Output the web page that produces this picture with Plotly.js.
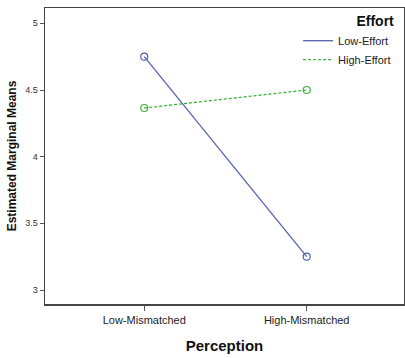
<!DOCTYPE html>
<html><head><meta charset="utf-8">
<script src="https://cdn.plot.ly/plotly-3.0.1.min.js"></script>
<style>html,body{margin:0;padding:0;background:#fff}#chart{width:405px;height:358px}</style>
</head><body><div id="chart"></div>
<script>
const categories = ["Low-Mismatched", "High-Mismatched"];
const seriesNames = ["Low-Effort", "High-Effort"];
const lowEffort = [4.75, 3.25];
const highEffort = [4.365, 4.5];
const yTicks = [3, 3.5, 4, 4.5, 5];
const yTickLabels = ["3", "3.5", "4", "4.5", "5"];

const colors = ["#5563b0", "#3cb43c"];
const dashes = ["solid", "3px,2px"];
const values = [lowEffort, highEffort];

const traces = [];
values.forEach((vals, i) => {
  traces.push({x: categories, y: vals, name: seriesNames[i], type: "scatter", mode: "lines+markers",
    showlegend: false,
    line: {color: colors[i], width: 1.3, dash: dashes[i]},
    marker: {symbol: "circle-open", size: 7, color: colors[i], line: {width: 1.2}}});
});
values.forEach((vals, i) => {
  traces.push({x: [null], y: [null], name: seriesNames[i], type: "scatter", mode: "lines",
    line: {color: colors[i], width: 1.3, dash: dashes[i]}});
});

const layout = {
  width: 405, height: 358,
  margin: {l: 45, r: 1, t: 8, b: 54},
  paper_bgcolor: "#fff", plot_bgcolor: "#fff",
  font: {family: "Liberation Sans, Arial, sans-serif", color: "#222"},
  showlegend: true,
  legend: {
    x: 0.705, y: 1.0, xanchor: "left", yanchor: "top",
    bgcolor: "rgba(0,0,0,0)",
    font: {size: 11, color: "#222"},
    title: {text: "<b>Effort</b>", font: {size: 14, color: "#111"}, side: "top right"},
    itemwidth: 30, tracegroupgap: 0
  },
  xaxis: {
    type: "category", range: [-0.611, 1.599],
    showline: true, mirror: true, linecolor: "#444", linewidth: 1.5,
    ticks: "outside", ticklen: 5, tickcolor: "#555", showgrid: false, zeroline: false,
    tickfont: {size: 11, color: "#222"},
    title: {text: "<b>Perception</b>", font: {size: 15, color: "#111"}, standoff: 16}
  },
  yaxis: {
    range: [2.895, 5.115],
    tickvals: yTicks, ticktext: yTickLabels,
    showline: true, mirror: true, linecolor: "#444", linewidth: 1.5,
    ticks: "outside", ticklen: 4, tickcolor: "#555", showgrid: false, zeroline: false,
    tickfont: {size: 9, color: "#333"},
    title: {text: "<b>Estimated Marginal Means</b>", font: {size: 12, color: "#111"}, standoff: 6}
  }
};

Plotly.newPlot("chart", traces, layout, {displayModeBar: false, staticPlot: true});
</script></body></html>
